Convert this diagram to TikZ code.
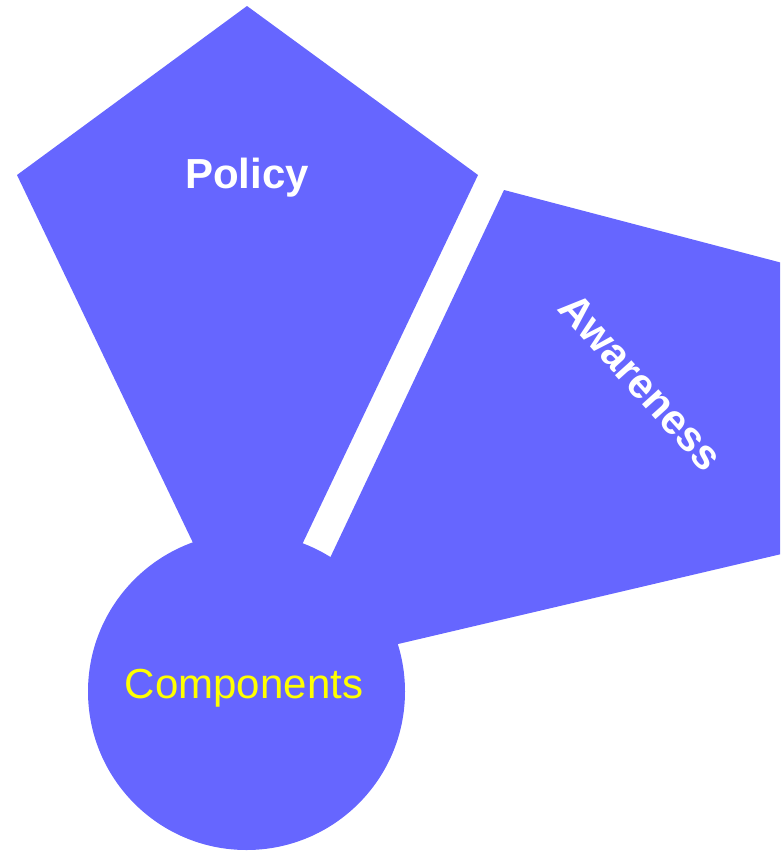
\documentclass[tikz,border=0pt]{standalone}
\usepackage{fontspec}
\setmainfont{Liberation Sans}
\usetikzlibrary{positioning}
\definecolor{petal}{HTML}{6666FF}
\definecolor{hubtext}{HTML}{FFFF00}
\begin{document}
\begin{tikzpicture}[x=1pt,y=-1pt]
\tikzstyle{piece}=[fill=petal, draw=none]
\tikzstyle{title}=[font=\fontsize{42}{50}\selectfont\bfseries, text=white, inner sep=0pt]
\tikzstyle{hub}=[font=\fontsize{42}{50}\selectfont, text=hubtext, inner sep=0pt]
  \useasboundingbox (0,0) rectangle (780,852);
  \clip (0,0) rectangle (780,852);
  % the three pieces
  \fill[piece] (247,6) -- (478,175) -- (289,572) -- (206,570) -- (17,175) -- cycle;
  \fill[piece] (504,190) -- (790,265) -- (790,552) -- (378.5,648.6) -- (321.5,576) -- cycle;
  \fill[piece] (246.5,691.5) circle[radius=158.5];
  % labels
  \node[title] (policy) at (247,178) {Policy};
  \node[title, rotate=-48] (awareness) at (641,382) {Awareness};
  \node[hub] (components) at (244,688) {Components};
\end{tikzpicture}
\end{document}
